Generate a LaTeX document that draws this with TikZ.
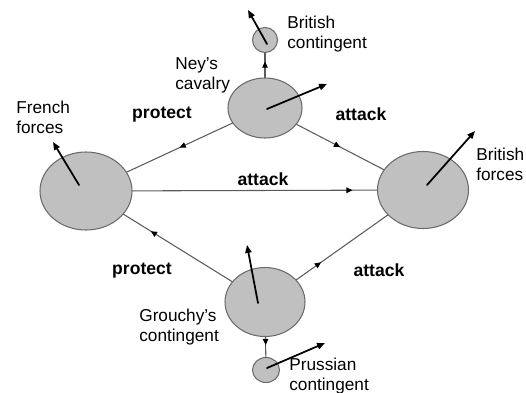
\documentclass[tikz,border=0pt]{standalone}
\usepackage{fontspec}
\setmainfont{Liberation Sans}
\usetikzlibrary{arrows.meta,shapes.geometric,decorations.markings}
\definecolor{BlobFill}{HTML}{C0C0C0}
\definecolor{BlobEdge}{HTML}{6A6A6A}
\definecolor{LinkGray}{HTML}{5A5A5A}
\tikzset{
  blob/.style 2 args={ellipse,fill=BlobFill,draw=BlobEdge,line width=0.6pt,inner sep=0pt,
    minimum width=#1*0.02cm,minimum height=#2*0.02cm},
  link/.style={draw=LinkGray,line width=0.6pt},
  midarrow/.style={postaction={decorate},decoration={markings,
    mark=at position #1 with {\arrow[black]{Triangle[length=3.5pt,width=3.2pt]}}}},
  heading/.style={-{Triangle[length=4.5pt,width=3.6pt]},line width=1pt},
  lbl/.style={font=\fontsize{9.8}{11.3}\selectfont,align=left,anchor=west,inner sep=0pt},
  act/.style={font=\fontsize{10}{12}\bfseries\selectfont,inner sep=0pt}
}

\begin{document}
\begin{tikzpicture}[x=0.02cm,y=-0.02cm,line cap=round,line join=round]
  \useasboundingbox (0,0) rectangle (526,392);
  \node[blob={92}{78}] (french) at (86,191) {};
  \node[blob={91}{77}] (british) at (423,190) {};
  \node[blob={74}{60}] (ney) at (265,108) {};
  \node[blob={80}{69}] (grouchy) at (265,302) {};
  \node[blob={25}{25}] (bcont) at (265,40) {};
  \node[blob={27}{25}] (pcont) at (266,370) {};
  \draw[link,midarrow=0.5] (ney) -- (french);
  \draw[link,midarrow=0.5] (ney) -- (british);
  \draw[link,midarrow=0.9] (french) -- (british);
  \draw[link,midarrow=0.75] (grouchy) -- (french);
  \draw[link,midarrow=0.27] (grouchy) -- (british);
  \draw[link,midarrow=0.65] (ney) -- (bcont);
  \draw[link,midarrow=0.4] (grouchy) -- (pcont);
  \coordinate (french-tip) at (53,142);
  \coordinate (british-tip) at (475,131);
  \coordinate (ney-tip) at (327,84);
  \coordinate (grouchy-tip) at (247,245);
  \coordinate (bcont-tip) at (248,10);
  \coordinate (pcont-tip) at (325,343);
  \draw[heading] ([shift={(-7,-6)}]french.center) -- (french-tip);
  \draw[heading] ([shift={(4,-5)}]british.center) -- (british-tip);
  \draw[heading] ([shift={(2,1)}]ney.center) -- (ney-tip);
  \draw[heading] ([shift={(-7,1)}]grouchy.center) -- (grouchy-tip);
  \draw[heading] ([shift={(2,4)}]bcont.center) -- (bcont-tip);
  \draw[heading] ([shift={(1,-2)}]pcont.center) -- (pcont-tip);
  \node[lbl] (french-lbl) at (16,117) {French\\forces};
  \node[lbl] (british-lbl) at (476,164) {British\\forces};
  \node[lbl] (ney-lbl) at (175,75) {Ney's\\cavalry};
  \node[lbl] (bcont-lbl) at (287,34) {British\\contingent};
  \node[lbl] (grouchy-lbl) at (139,327) {Grouchy's\\contingent};
  \node[lbl] (pcont-lbl) at (289,376) {Prussian\\contingent};
  \node[act] (protect-ney) at (162,115) {protect};
  \node[act] (attack-ney) at (361,114) {attack};
  \node[act] (attack-french) at (263,179) {attack};
  \node[act] (protect-grouchy) at (142,271) {protect};
  \node[act] (attack-grouchy) at (379,270) {attack};
\end{tikzpicture}
\end{document}
